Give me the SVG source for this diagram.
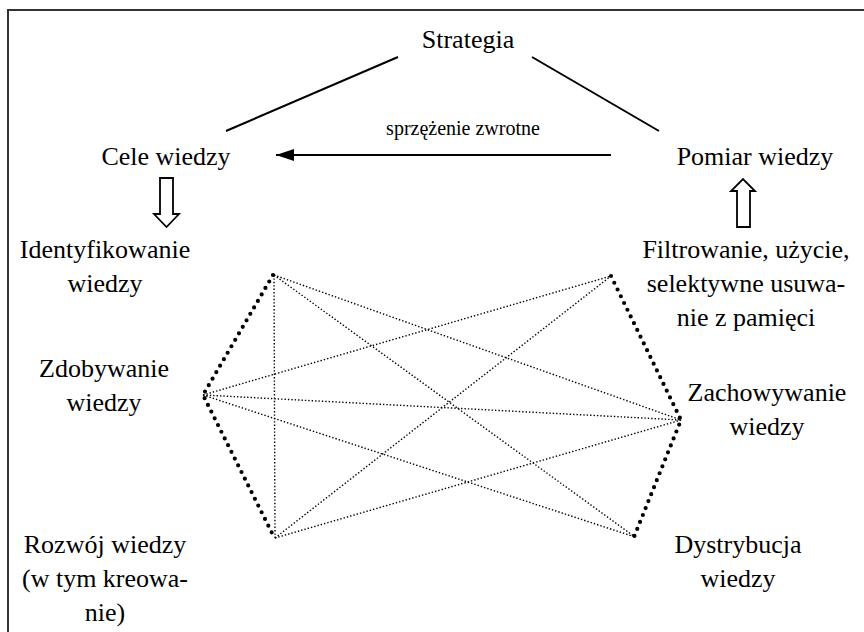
<svg xmlns="http://www.w3.org/2000/svg" width="864" height="632" viewBox="0 0 864 632">
<style>
text{font-family:'Liberation Serif','Times New Roman',serif;font-size:26px;fill:#000;text-anchor:middle}
.small{font-size:20px}
.solid{stroke:#000;stroke-width:2;fill:none}
.thick{stroke:#000;stroke-width:4.2;stroke-dasharray:0 7.5;stroke-linecap:round;fill:none}
.thin{stroke:#000;stroke-width:1.4;stroke-dasharray:1.4 2;fill:none}
.hollow{stroke:#000;stroke-width:1.8;fill:#fff;stroke-linejoin:miter}
</style>
<defs>
<marker id="ah" markerWidth="18" markerHeight="12" refX="18" refY="6" orient="auto" markerUnits="userSpaceOnUse">
<path d="M0,0 L18,6 L0,12 Z" fill="#000"/>
</marker>
</defs>
<rect width="864" height="632" fill="#fff"/>
<g id="frame">
<path d="M8,632 L8,10 L864,10" stroke="#333" stroke-width="2" fill="none"/>
</g>
<g id="n-strategia"><text x="468" y="48">Strategia</text></g>
<g id="n-cele"><text x="166" y="165">Cele wiedzy</text></g>
<g id="n-pomiar"><text x="755" y="165">Pomiar wiedzy</text></g>
<g id="n-ident"><text x="105" y="258">Identyfikowanie</text><text x="105" y="292">wiedzy</text></g>
<g id="n-filtr"><text x="746" y="258">Filtrowanie, użycie,</text><text x="746" y="292">selektywne usuwa-</text><text x="746" y="326">nie z pamięci</text></g>
<g id="n-zdob"><text x="104" y="377">Zdobywanie</text><text x="104" y="411">wiedzy</text></g>
<g id="n-zach"><text x="767" y="401">Zachowywanie</text><text x="767" y="435">wiedzy</text></g>
<g id="n-rozw"><text x="105" y="553">Rozwój wiedzy</text><text x="105" y="587">(w tym kreowa-</text><text x="105" y="621">nie)</text></g>
<g id="n-dystr"><text x="738" y="553">Dystrybucja</text><text x="738" y="587">wiedzy</text></g>
<g id="connectors">
<line class="solid" x1="226" y1="131" x2="398" y2="57"/>
<line class="solid" x1="532" y1="57" x2="659" y2="131"/>
<line class="solid" x1="611" y1="155" x2="276" y2="155" marker-end="url(#ah)"/>
<text class="small" x="463" y="135">sprzężenie zwrotne</text>
<path class="hollow" d="M160,178 L173,178 L173,214 L179,214 L166.5,227 L154,214 L160,214 Z"/>
<path class="hollow" d="M737,227 L750,227 L750,191 L755,191 L743,179 L731,191 L737,191 Z"/>
<path class="thick" d="M273,275 L203,395 L273,535"/>
<path class="thick" d="M611,276 L681,420 L634,537"/>
<line class="thin" x1="274" y1="275" x2="275" y2="538"/>
<line class="thin" x1="274" y1="275" x2="681" y2="420"/>
<line class="thin" x1="274" y1="275" x2="635" y2="537"/>
<line class="thin" x1="203" y1="395" x2="611" y2="276"/>
<line class="thin" x1="203" y1="395" x2="681" y2="420"/>
<line class="thin" x1="203" y1="395" x2="635" y2="537"/>
<line class="thin" x1="275" y1="538" x2="611" y2="276"/>
<line class="thin" x1="275" y1="538" x2="681" y2="420"/>
</g>
</svg>
